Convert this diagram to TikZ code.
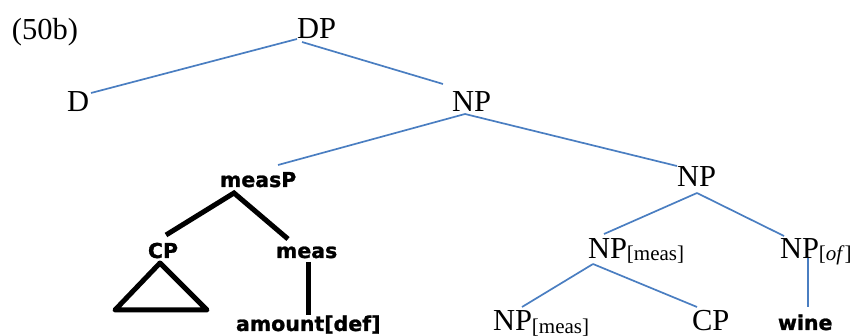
\documentclass[tikz,border=0pt]{standalone}
\usepackage{fontspec}
\setmainfont{Liberation Serif}
\newfontfamily\bsans[FakeBold=1.2]{DejaVu Sans}
\usetikzlibrary{calc}
\definecolor{treeblue}{RGB}{74,126,193}
\newcommand{\mysub}[1]{\raisebox{-2pt}{\fontsize{21}{24}\selectfont #1}}
\tikzset{
  serifn/.style={font=\fontsize{30.5}{36}\selectfont, inner sep=0pt, outer sep=0pt, anchor=base west},
  boldn/.style={font=\bsans\bfseries\fontsize{20.5}{24}\selectfont, inner sep=0pt, outer sep=0pt, anchor=base west},
  blueline/.style={draw=treeblue, line width=1.7pt},
  heavyline/.style={draw=black, line width=5pt},
}
\begin{document}
\begin{tikzpicture}[x=1pt,y=-1pt]
\useasboundingbox (0,0) rectangle (851,336);
% nodes
\node[serifn] (lab) at (12,40) {(50b)};
\node[serifn] (DP) at (297,39) {DP};
\node[serifn] (D) at (67,112) {D};
\node[serifn] (NPa) at (452,112) {NP};
\node[boldn] (measP) at (220,187) {measP};
\node[serifn] (NPb) at (677,187) {NP};
\node[boldn] (CPa) at (148,258) {CP};
\node[boldn] (meas) at (276,258) {meas};
\node[serifn] (NPm) at (588,259) {NP\mysub{[meas]}};
\node[serifn] (NPof) at (780,259) {NP\mysub{[\textit{of}]}};
\node[boldn] (amount) at (236,331) {amount[def]};
\node[serifn] (NPm2) at (493,331) {NP\mysub{[meas]}};
\node[serifn] (CPb) at (692,331) {CP};
\node[boldn] (wine) at (778,330) {wine};
% blue connectors
\draw[blueline] (DP.base west) -- ($(D.base west)+(24,-19)$);
\draw[blueline] ($(DP.base west)+(5,3)$) -- ($(NPa.base west)+(-9,-28)$);
\draw[blueline] ($(NPa.base west)+(13,2)$) -- ($(measP.base west)+(58,-22)$);
\draw[blueline] ($(NPa.base west)+(13,2)$) -- ($(NPb.base west)+(0,-21)$);
\draw[blueline] ($(NPb.base west)+(20,6)$) -- ($(NPm.base west)+(16,-25)$);
\draw[blueline] ($(NPb.base west)+(20,6)$) -- ($(NPof.base west)+(4,-23)$);
\draw[blueline] ($(NPm.base west)+(5,5)$) -- ($(NPm2.base west)+(29,-24)$);
\draw[blueline] ($(NPm.base west)+(5,5)$) -- ($(CPb.base west)+(5,-24)$);
\draw[blueline] ($(NPof.base west)+(28,-1)$) -- ($(wine.base west)+(30,-23)$);
% heavy black connectors
\draw[heavyline] ($(CPa.base west)+(18,-23)$) -- ($(measP.base west)+(14,6)$) -- ($(meas.base west)+(12,-19)$);
\draw[heavyline] ($(meas.base west)+(32,4)$) -- ($(amount.base west)+(72,-16)$);
\draw[heavyline, line join=round] ($(CPa.base west)+(12,5)$) -- ($(CPa.base west)+(-33,52)$) -- ($(CPa.base west)+(59,52)$) -- cycle;
\end{tikzpicture}
\end{document}
